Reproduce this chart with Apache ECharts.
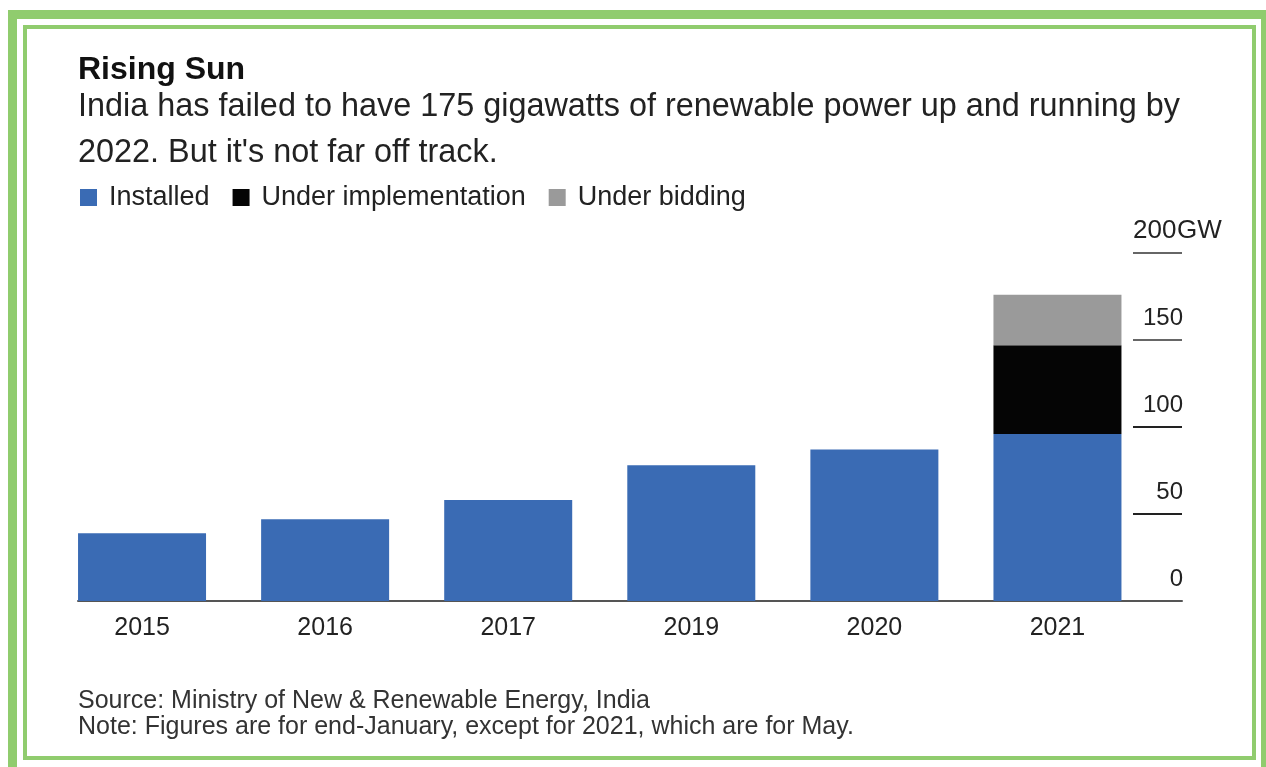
<!DOCTYPE html>
<html>
<head>
<meta charset="utf-8">
<script src="https://cdn.jsdelivr.net/npm/echarts@6/dist/echarts.min.js"></script>
<style>
  html, body { margin: 0; padding: 0; width: 1266px; height: 767px; overflow: hidden; background: #fff; }
  .band { position: absolute; left: 8px; top: 10px; width: 1300px; height: 800px; background: #90CC6E; }
  .inner { position: absolute; left: 17px; top: 19px; width: 1244px; height: 800px; background: #fff; }
  .rule { position: absolute; left: 23px; top: 25px; width: 1233px; height: 735px; border: 4px solid #90CC6E; box-sizing: border-box; }
  #chart { position: absolute; left: 0; top: 0; width: 1266px; height: 767px; }
</style>
</head>
<body>
<div class="band"></div>
<div class="inner"></div>
<div class="rule"></div>
<div id="chart"></div>
<script>
// Renewable capacity in India, GW
const years = ['2015', '2016', '2017', '2019', '2020', '2021'];
const installed = [39, 47, 58, 78, 87, 96];
const underImplementation = [null, null, null, null, null, 51];
const underBidding = [null, null, null, null, null, 29];
const seriesNames = ['Installed', 'Under implementation', 'Under bidding'];
const seriesColors = ['#3A6BB4', '#050505', '#9A9A9A'];
const yMin = 0, yMax = 200, yStep = 50;

const FONT = 'Liberation Sans, Arial, sans-serif';
const chart = echarts.init(document.getElementById('chart'), null, { renderer: 'canvas' });

const plotTop = 253, plotBottom = 767 - 601;

function stackSeries(name, data, color) {
  return {
    name: name, type: 'bar', stack: 'capacity',
    xAxisIndex: 0, yAxisIndex: 0,
    data: data, barWidth: 128,
    itemStyle: { color: color },
    emphasis: { disabled: true }
  };
}

chart.setOption({
  animation: false,
  backgroundColor: 'transparent',
  title: [
    { text: 'Rising Sun', left: 78, top: 52, padding: 0,
      textStyle: { fontFamily: FONT, fontSize: 32, fontWeight: 'bold', color: '#111', lineHeight: 36 } },
    { text: "India has failed to have 175 gigawatts of renewable power up and running by\n2022. But it's not far off track.",
      left: 78, top: 84, padding: 0,
      textStyle: { fontFamily: FONT, fontSize: 32.4, fontWeight: 'normal', color: '#222', lineHeight: 46 } },
    { text: 'Source: Ministry of New & Renewable Energy, India\nNote: Figures are for end-January, except for 2021, which are for May.',
      left: 78, top: 688, padding: 0,
      textStyle: { fontFamily: FONT, fontSize: 25, fontWeight: 'normal', color: '#333', lineHeight: 26 } }
  ],
  legend: {
    left: 80, top: 184, padding: 0,
    itemWidth: 17, itemHeight: 17, itemGap: 23, icon: 'rect',
    selectedMode: false,
    data: seriesNames,
    textStyle: { fontFamily: FONT, fontSize: 27, color: '#222', lineHeight: 26, padding: [0, 0, 0, 7] }
  },
  grid: [
    // bars
    { left: 50.5, right: 117, top: plotTop, bottom: plotBottom },
    // baseline rule
    { left: 78, right: 84, top: plotTop, bottom: plotBottom },
    // value ticks on the right
    { left: 1133, right: 84, top: plotTop, bottom: plotBottom }
  ],
  xAxis: [
    { type: 'category', gridIndex: 0, data: years,
      axisLine: { show: false }, axisTick: { show: false },
      axisLabel: { fontFamily: FONT, fontSize: 25, color: '#222', margin: 15, lineHeight: 25 } },
    { type: 'value', gridIndex: 1, min: 0, max: 1,
      axisLine: { show: true, lineStyle: { color: '#555', width: 2 } },
      axisTick: { show: false }, axisLabel: { show: false }, splitLine: { show: false } },
    { type: 'value', gridIndex: 2, min: 0, max: 1, show: false }
  ],
  yAxis: [
    { type: 'value', gridIndex: 0, min: yMin, max: yMax, interval: yStep, show: false },
    { type: 'value', gridIndex: 1, min: yMin, max: yMax, interval: yStep, show: false },
    { type: 'value', gridIndex: 2, min: yMin, max: yMax, interval: yStep, position: 'left',
      axisLine: { show: false }, axisTick: { show: false },
      splitLine: { show: true, lineStyle: { width: 2, color: ['#555', '#222', '#222', '#666', '#666'] } },
      axisLabel: {
        inside: true, margin: 0, align: 'left', verticalAlign: 'bottom', padding: [0, 0, 10, 0],
        formatter: function (v) { return v === yMax ? '{n|' + v + '}{u|GW}' : '{w|' + v + '}'; },
        rich: {
          w: { width: 50, align: 'right', fontFamily: FONT, fontSize: 24, color: '#222', lineHeight: 24 },
          n: { width: 44, fontFamily: FONT, fontSize: 26, color: '#222', lineHeight: 24 },
          u: { fontFamily: FONT, fontSize: 26, color: '#222', lineHeight: 24 }
        }
      } }
  ],
  series: [
    stackSeries(seriesNames[0], installed, seriesColors[0]),
    stackSeries(seriesNames[1], underImplementation, seriesColors[1]),
    stackSeries(seriesNames[2], underBidding, seriesColors[2])
  ]
});
</script>
</body>
</html>
